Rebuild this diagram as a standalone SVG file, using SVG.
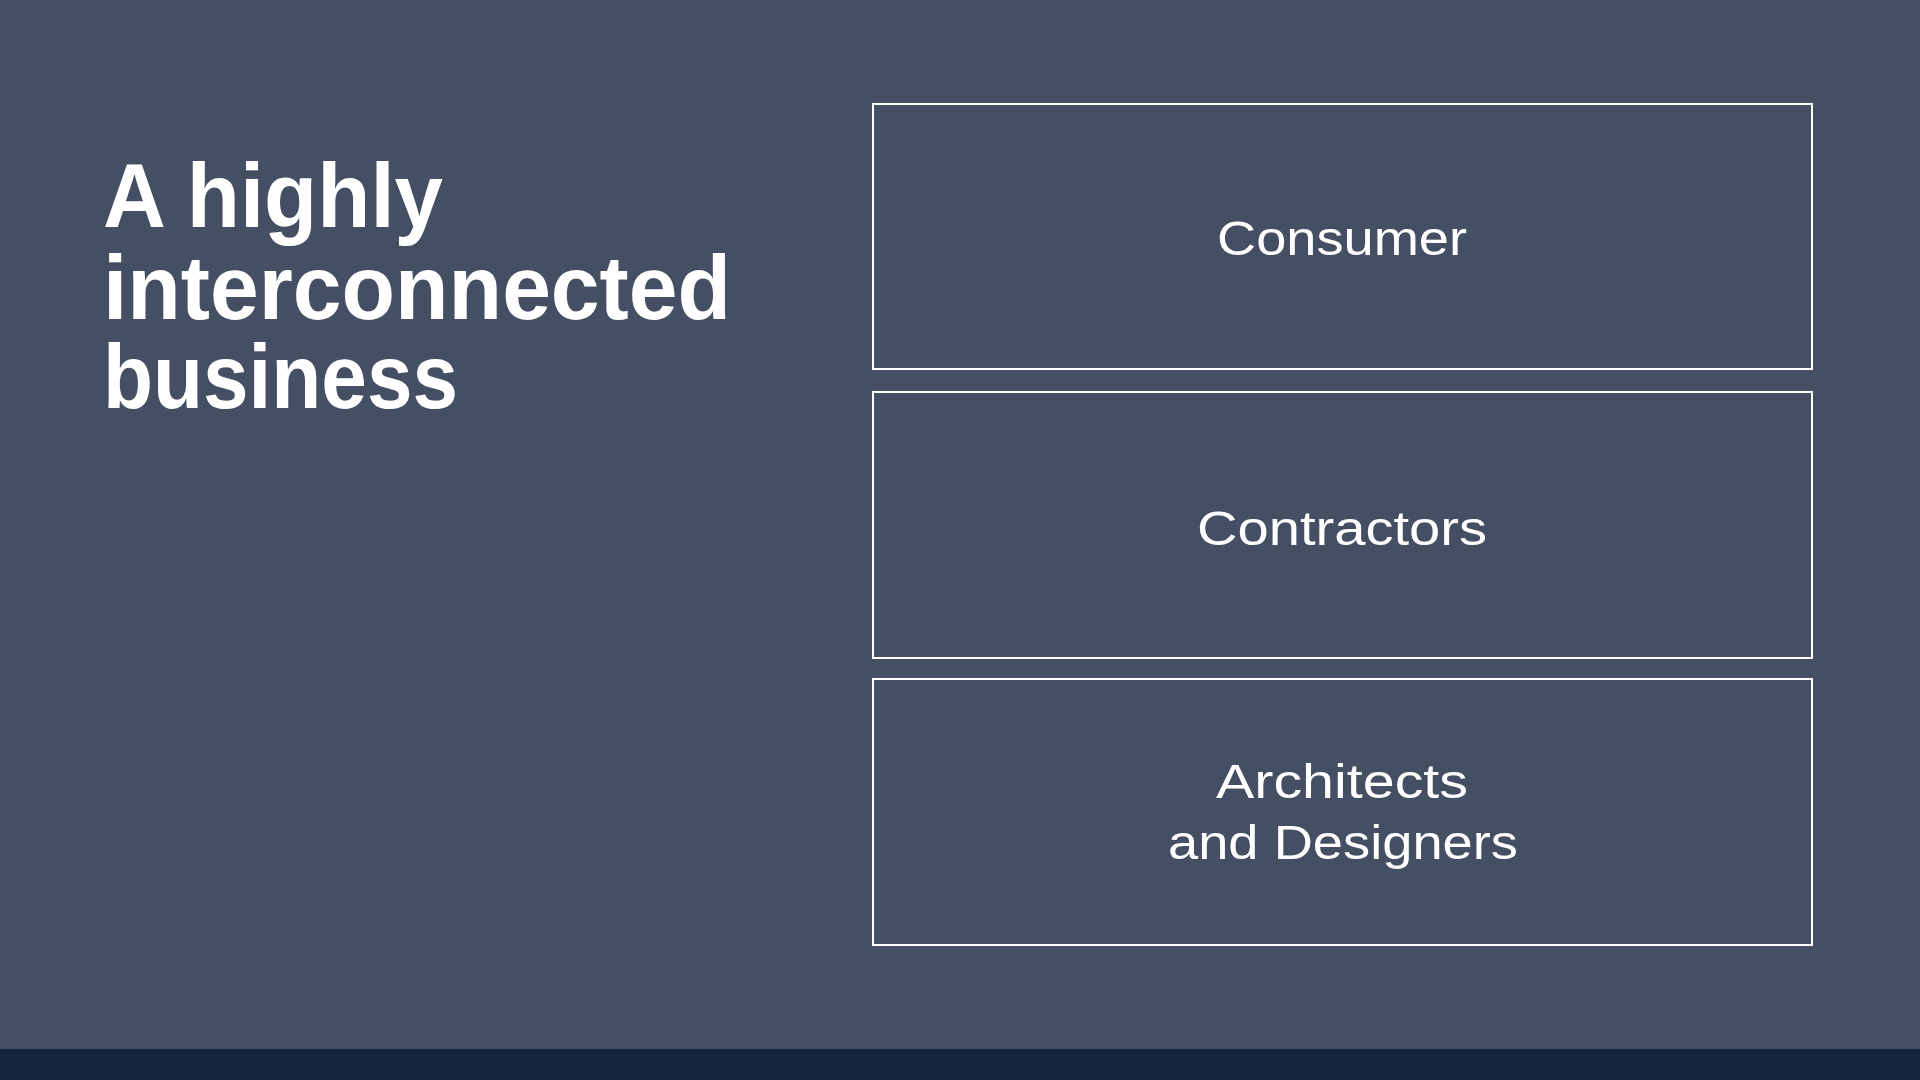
<svg xmlns="http://www.w3.org/2000/svg" width="1920" height="1080" viewBox="0 0 1920 1080">
  <style>
    .title { font-family: "Liberation Sans", Arial, sans-serif; font-weight: bold; font-size: 90px; fill: #ffffff; }
    .box { fill: none; stroke: #ffffff; stroke-width: 2; }
    .label { font-family: "Liberation Sans", Arial, sans-serif; font-size: 49px; fill: #ffffff; text-anchor: middle; }
  </style>
  <rect x="0" y="0" width="1920" height="1080" fill="#444f63"/>
  <rect x="0" y="1049" width="1920" height="31" fill="#172440"/>
  <g id="title">
    <text class="title" x="103" y="227" textLength="340" lengthAdjust="spacingAndGlyphs">A highly</text>
    <text class="title" x="103" y="319" textLength="628" lengthAdjust="spacingAndGlyphs">interconnected</text>
    <text class="title" x="103" y="408" textLength="355" lengthAdjust="spacingAndGlyphs">business</text>
  </g>
  <g id="connectors"></g>
  <g id="node-consumer">
    <rect class="box" x="873" y="104" width="939" height="265"/>
    <text class="label" x="1342" y="255" textLength="250" lengthAdjust="spacingAndGlyphs">Consumer</text>
  </g>
  <g id="node-contractors">
    <rect class="box" x="873" y="392" width="939" height="266"/>
    <text class="label" x="1342" y="545" textLength="290" lengthAdjust="spacingAndGlyphs">Contractors</text>
  </g>
  <g id="node-architects">
    <rect class="box" x="873" y="679" width="939" height="266"/>
    <text class="label" x="1342" y="798" textLength="252" lengthAdjust="spacingAndGlyphs">Architects</text>
    <text class="label" x="1343" y="859" textLength="350" lengthAdjust="spacingAndGlyphs">and Designers</text>
  </g>
</svg>
